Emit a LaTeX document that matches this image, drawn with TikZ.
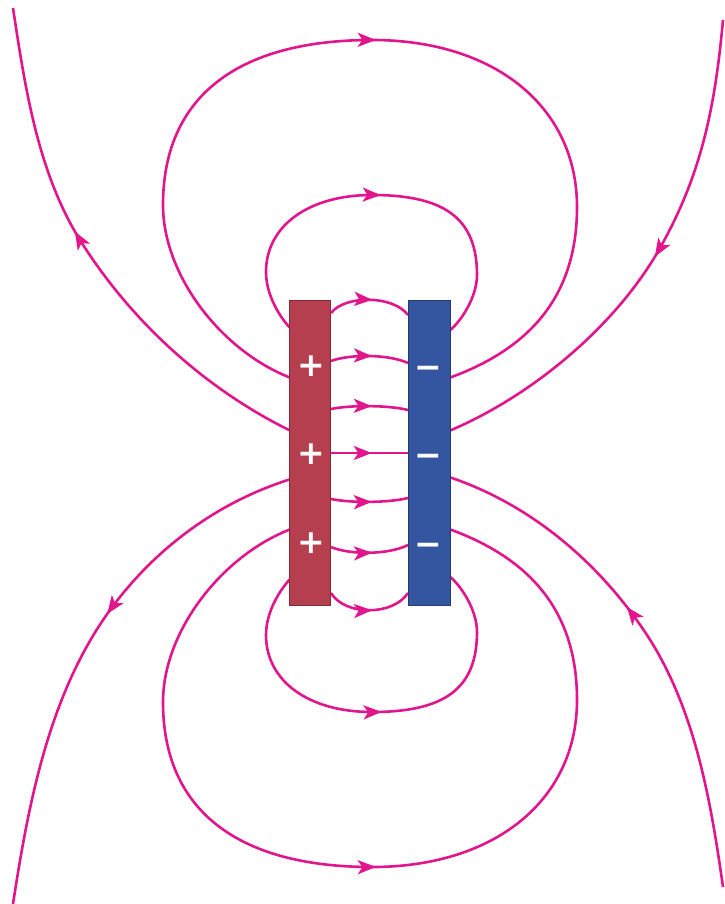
\documentclass[tikz,border=0pt]{standalone}
\usepackage{fontspec}
\newfontfamily\signfont{DejaVu Sans}
\usetikzlibrary{arrows.meta,decorations.markings}
\definecolor{field}{RGB}{226,22,140}
\definecolor{plusplate}{RGB}{181,63,78}
\definecolor{minusplate}{RGB}{52,86,160}
\tikzset{
  fieldline/.style={color=field, line width=2.6pt},
  arrowat/.style={postaction={decorate}, decoration={markings,
      mark=at position #1 with {\arrow{Stealth[length=18pt,width=14pt,inset=4.5pt]}}}},
  plate/.style={line width=0.7pt, minimum width=41.5pt, minimum height=305pt, inner sep=0pt},
  sign/.style={text=white, font=\signfont\bfseries\fontsize{33}{33}\selectfont, inner sep=0pt},
}
\begin{document}
\begin{tikzpicture}[x=1pt,y=-1pt]
\fill[white] (0,0) rectangle (724,904);
\useasboundingbox (0,0) rectangle (724,904);

% ---- field lines between the plates ----
\draw[fieldline, arrowat=0.53] (331,313) .. controls (345,295) and (393,295) .. (408,315);
\draw[fieldline, arrowat=0.53] (331,361) .. controls (350,354) and (388,354) .. (408,363);
\draw[fieldline, arrowat=0.53] (331,409) .. controls (350,405) and (388,405) .. (408,410);
\draw[fieldline, arrowat=0.53] (331,453) -- (408,453);
\draw[fieldline, arrowat=0.53] (331,499) .. controls (350,503) and (388,503) .. (408,498);
\draw[fieldline, arrowat=0.53] (331,547) .. controls (350,555) and (388,555) .. (408,545);
\draw[fieldline, arrowat=0.53] (331,593) .. controls (345,616) and (393,616) .. (408,593);

% ---- top loops ----
\draw[fieldline, arrowat=0.513] (291,329) .. controls (278.6,315.9) and (266,294) .. (266,272)
   .. controls (266,226) and (308.4,195) .. (372,195)
   .. controls (445.5,195) and (477,219) .. (477,275)
   .. controls (477,297) and (460.9,321.9) .. (449,331);
\draw[fieldline, arrowat=0.505] (291,378) .. controls (221,351) and (163,275) .. (163,205)
   .. controls (163,98) and (236,40) .. (372,40)
   .. controls (495,40) and (577,107) .. (577,207)
   .. controls (577,297) and (529,349) .. (449,378);
% outer top, left (away from + plate)
\draw[fieldline, arrowat=0.561] (291,431) .. controls (205.5,389.2) and (130.4,320.8) .. (80,240)
   .. controls (37.6,172) and (25,87) .. (13,8);
% outer top, right (into - plate)
\draw[fieldline, arrowat=0.476] (723,20) .. controls (715,107) and (701.7,174) .. (660,248)
   .. controls (616,326) and (532,396) .. (449,431);

% ---- bottom loops ----
\draw[fieldline, arrowat=0.515] (291,578) .. controls (278.6,591.1) and (266,613) .. (266,635)
   .. controls (266,681) and (308.4,712) .. (372,712)
   .. controls (445.5,712) and (477,688) .. (477,632)
   .. controls (477,610) and (460.9,585.1) .. (449,576);
\draw[fieldline, arrowat=0.505] (291,529) .. controls (221,556) and (163,632) .. (163,702)
   .. controls (163,809) and (236,867) .. (372,867)
   .. controls (495,867) and (577,800) .. (577,700)
   .. controls (577,610) and (529,558) .. (449,529);
% outer bottom, left
\draw[fieldline, arrowat=0.43] (291,479) .. controls (219.5,501.4) and (158,546) .. (113,606)
   .. controls (50,690) and (29,800) .. (13,904);
% outer bottom, right
\draw[fieldline, arrowat=0.573] (723,887) .. controls (710.5,799) and (694.5,706) .. (645,632)
   .. controls (597.7,561.4) and (529.7,503.9) .. (449,477);

% ---- plates ----
\node[plate, fill=plusplate, draw=plusplate!70!black] (pos) at (310,453) {};
\node[plate, fill=minusplate, draw=minusplate!70!black] (neg) at (429.5,453) {};

% ---- charges ----
\node[sign] (p1) at (311.5,366) {+};
\node[sign] (p2) at (311.5,454) {+};
\node[sign] (p3) at (311.5,543) {+};
\node[sign] (m1) at (428,372) {−};
\node[sign] (m2) at (428,460) {−};
\node[sign] (m3) at (428,549) {−};
\end{tikzpicture}
\end{document}
